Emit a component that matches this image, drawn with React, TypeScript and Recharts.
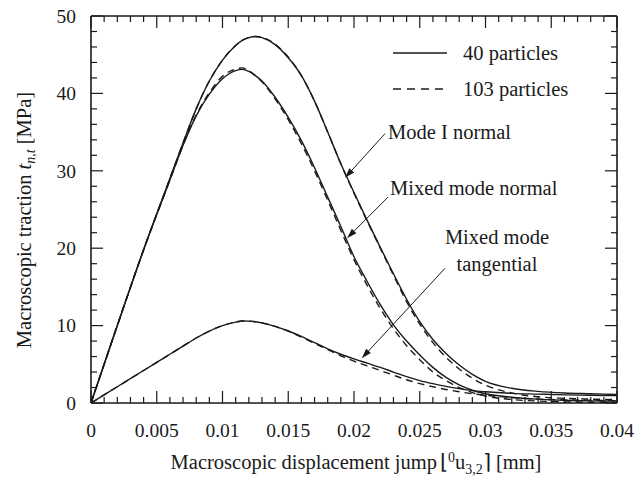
import React from "react";
import { LineChart, Line, XAxis, YAxis, ReferenceLine, ReferenceDot, Legend } from "recharts";

// displacement jump [mm]
const xs = [
  0, 0.002, 0.004, 0.006, 0.007, 0.008, 0.009, 0.01, 0.011, 0.0115, 0.012, 0.0125, 0.013, 0.014,
  0.015, 0.016, 0.017, 0.018, 0.019, 0.02, 0.021, 0.022, 0.023, 0.024, 0.025, 0.026, 0.027, 0.028,
  0.029, 0.03, 0.032, 0.034, 0.036, 0.038, 0.04,
];

// traction [MPa]
const modeI40 = [
  0, 10.0, 19.8, 29.0, 33.6, 38.0, 41.6, 44.3, 46.2, 46.85, 47.2, 47.35, 47.2, 46.3, 44.6, 42.3,
  39.0, 35.0, 30.9, 27.2, 23.6, 20.1, 16.7, 13.4, 10.5, 8.2, 6.4, 4.9, 3.7, 2.8, 1.9, 1.5, 1.3, 1.2,
  1.1,
];
const modeI103 = [
  0, 10.0, 19.8, 29.0, 33.6, 38.0, 41.6, 44.3, 46.2, 46.85, 47.2, 47.35, 47.25, 46.35, 44.7, 42.3,
  39.0, 35.0, 30.9, 27.1, 23.5, 20.0, 16.5, 13.1, 10.2, 7.8, 5.9, 4.4, 3.2, 2.3, 1.3, 0.8, 0.6, 0.5,
  0.45,
];
const mixedN40 = [
  0, 10.0, 19.8, 28.8, 33.3, 37.1, 39.9, 41.9, 42.95, 43.1, 42.85, 42.3, 41.6, 39.5, 36.9, 33.9,
  30.4, 26.6, 22.8, 18.9, 15.7, 12.7, 10.1, 8.0, 6.2, 4.6, 3.3, 2.35, 1.65, 1.2, 0.75, 0.5, 0.35,
  0.28, 0.25,
];
const mixedN103 = [
  0, 10.0, 19.8, 28.8, 33.3, 37.2, 40.1, 42.2, 43.15, 43.3, 42.95, 42.3, 41.5, 39.3, 36.6, 33.5,
  30.0, 26.2, 22.3, 18.5, 15.2, 12.2, 9.6, 7.4, 5.6, 4.0, 2.9, 2.0, 1.35, 0.9, 0.45, 0.25, 0.15, 0.1,
  0.1,
];
const tang40 = [
  0, 2.1, 4.2, 6.3, 7.35, 8.4, 9.3, 10.0, 10.45, 10.6, 10.58, 10.5, 10.35, 9.9, 9.3, 8.6, 7.8, 7.0,
  6.3, 5.7, 5.15, 4.6, 4.0, 3.4, 2.9, 2.5, 2.15, 1.85, 1.6, 1.45, 1.25, 1.15, 1.05, 1.0, 0.95,
];
const tang103 = [
  0, 2.1, 4.2, 6.3, 7.35, 8.4, 9.3, 10.0, 10.45, 10.6, 10.58, 10.5, 10.35, 9.9, 9.3, 8.5, 7.7, 6.9,
  6.1, 5.4, 4.8, 4.2, 3.6, 3.0, 2.5, 2.1, 1.75, 1.45, 1.2, 1.0, 0.7, 0.5, 0.4, 0.35, 0.3,
];

const xMajorTicks = [0, 0.005, 0.01, 0.015, 0.02, 0.025, 0.03, 0.035, 0.04];
const xTickLabels = ["0", "0.005", "0.01", "0.015", "0.02", "0.025", "0.03", "0.035", "0.04"];
const yMajorTicks = [0, 10, 20, 30, 40, 50];
const yTickLabels = ["0", "10", "20", "30", "40", "50"];

const legendItems = [
  { label: "40 particles", dashed: false },
  { label: "103 particles", dashed: true },
];

// arrow annotations in data coords
const arrows = [
  { from: { x: 0.02236, y: 34.8 }, to: { x: 0.01932, y: 29.1 } },
  { from: { x: 0.02259, y: 26.6 }, to: { x: 0.01947, y: 21.3 } },
  { from: { x: 0.02692, y: 17.4 }, to: { x: 0.02059, y: 5.78 } },
];
const notes = [
  { x: 0.022586, y: 34.17, text: "Mode I normal", anchor: "start" },
  { x: 0.022738, y: 26.9, text: "Mixed mode normal", anchor: "start" },
  { x: 0.030875, y: 20.54, text: "Mixed mode", anchor: "middle" },
  { x: 0.030875, y: 17.05, text: "tangential", anchor: "middle" },
];

const xAllTicks = Array.from({ length: 41 }, (_, i) => +(i * 0.001).toFixed(3));
const yAllTicks = Array.from({ length: 26 }, (_, i) => i * 2);

const data = xs.map((x, i) => ({
  x,
  modeI40: modeI40[i],
  modeI103: modeI103[i],
  mixedN40: mixedN40[i],
  mixedN103: mixedN103[i],
  tang40: tang40[i],
  tang103: tang103[i],
}));

const FONT = "Liberation Serif, Times New Roman, Times, serif";
const INK = "#1a1a1a";
const PLOT_LEFT = 91;
const PLOT_RIGHT = 617;
const PLOT_TOP = 16;
const PLOT_BOTTOM = 403;
const tickTxt = { fontFamily: FONT, fontSize: 19.5 };
const txt = { fontFamily: FONT, fontSize: 20.5 };

const XTick = (props: any) => {
  const { x, payload } = props;
  const idx = xMajorTicks.findIndex((t) => Math.abs(t - payload.value) < 1e-9);
  const len = idx >= 0 ? 12 : 6;
  return (
    <g>
      <line x1={x} x2={x} y1={PLOT_BOTTOM} y2={PLOT_BOTTOM - len} stroke={INK} strokeWidth={1.2} />
      <line x1={x} x2={x} y1={PLOT_TOP} y2={PLOT_TOP + len} stroke={INK} strokeWidth={1.2} />
      {idx >= 0 && (
        <text x={x} y={437} textAnchor="middle" style={tickTxt} fill={INK}>
          {xTickLabels[idx]}
        </text>
      )}
    </g>
  );
};

const YTick = (props: any) => {
  const { y, payload } = props;
  const idx = yMajorTicks.indexOf(payload.value);
  const len = idx >= 0 ? 12 : 6;
  return (
    <g>
      <line x1={PLOT_LEFT} x2={PLOT_LEFT + len} y1={y} y2={y} stroke={INK} strokeWidth={1.2} />
      <line x1={PLOT_RIGHT} x2={PLOT_RIGHT - len} y1={y} y2={y} stroke={INK} strokeWidth={1.2} />
      {idx >= 0 && (
        <text x={76} y={y + 6.8} textAnchor="end" style={tickTxt} fill={INK}>
          {yTickLabels[idx]}
        </text>
      )}
    </g>
  );
};

const XTitle = () => (
  <text x={356} y={469} textAnchor="middle" style={txt} fill={INK}>
    Macroscopic displacement jump
    <tspan dx={3}>⌊</tspan>
    <tspan dy={-7} fontSize={14}>0</tspan>
    <tspan dy={7}>u</tspan>
    <tspan dy={5} fontSize={14}>3,2</tspan>
    <tspan dy={-5}>⌉</tspan>
    <tspan> [mm]</tspan>
  </text>
);

const YTitle = () => (
  <text x={31} y={220} transform="rotate(-90, 31, 220)" textAnchor="middle" style={txt} fill={INK}>
    Macroscopic traction <tspan fontStyle="italic">t</tspan>
    <tspan fontStyle="italic" fontSize={14} dy={4}>n,t</tspan>
    <tspan dy={-4}> [MPa]</tspan>
  </text>
);

const Arrow = (props: any) => {
  const { x1, y1, x2, y2 } = props;
  const ang = Math.atan2(y2 - y1, x2 - x1);
  const L = 10;
  const W = 3.2;
  const bx = x2 - L * Math.cos(ang);
  const by = y2 - L * Math.sin(ang);
  const px = -Math.sin(ang) * W;
  const py = Math.cos(ang) * W;
  return (
    <g>
      <line x1={x1} y1={y1} x2={bx} y2={by} stroke={INK} strokeWidth={1} />
      <polygon points={`${x2},${y2} ${bx + px},${by + py} ${bx - px},${by - py}`} fill={INK} />
    </g>
  );
};

const LegendBox = () => (
  <div style={{ fontFamily: FONT, fontSize: 20.5, color: INK }}>
    {legendItems.map((it) => (
      <div key={it.label} style={{ display: "flex", alignItems: "center", height: 36 }}>
        <svg width={70} height={10}>
          <line
            x1={0}
            x2={54}
            y1={5}
            y2={5}
            stroke={INK}
            strokeWidth={1.3}
            strokeDasharray={it.dashed ? "8 6" : undefined}
          />
        </svg>
        <span>{it.label}</span>
      </div>
    ))}
  </div>
);

export default function App() {
  const lineProps = {
    type: "monotone" as const,
    stroke: INK,
    strokeWidth: 1.4,
    dot: false,
    isAnimationActive: false,
  };
  return (
    <div
      style={{
        position: "absolute",
        left: 0,
        top: 0,
        width: 635,
        height: 478,
        background: "#fff",
        fontFamily: FONT,
      }}
    >
      <LineChart width={635} height={478} data={data} margin={{ top: 16, right: 18, bottom: 35, left: 31 }}>
        <XAxis
          dataKey="x"
          type="number"
          domain={[0, 0.04]}
          allowDataOverflow
          ticks={xAllTicks}
          interval={0}
          tick={<XTick />}
          tickLine={false}
          axisLine={{ stroke: INK, strokeWidth: 1.6 }}
          height={40}
          label={() => <XTitle />}
        />
        <YAxis
          type="number"
          domain={[0, 50]}
          allowDataOverflow
          ticks={yAllTicks}
          interval={0}
          tick={<YTick />}
          tickLine={false}
          axisLine={{ stroke: INK, strokeWidth: 1.6 }}
          width={60}
          label={() => <YTitle />}
        />
        <ReferenceLine y={50} stroke={INK} strokeWidth={1.6} />
        <ReferenceLine x={0.04} stroke={INK} strokeWidth={1.6} />
        <Line dataKey="modeI103" {...lineProps} strokeDasharray="7 5" />
        <Line dataKey="mixedN103" {...lineProps} strokeDasharray="7 5" />
        <Line dataKey="tang103" {...lineProps} strokeDasharray="7 5" />
        <Line dataKey="modeI40" {...lineProps} />
        <Line dataKey="mixedN40" {...lineProps} />
        <Line dataKey="tang40" {...lineProps} />
        {arrows.map((a, i) => (
          <ReferenceLine key={`arrow-${i}`} segment={[a.from, a.to]} shape={<Arrow />} ifOverflow="visible" />
        ))}
        {notes.map((n, i) => (
          <ReferenceDot
            key={`note-${i}`}
            x={n.x}
            y={n.y}
            r={0}
            ifOverflow="visible"
            shape={(p: any) => (
              <text x={p.cx} y={p.cy} textAnchor={n.anchor} style={txt} fill={INK}>
                {n.text}
              </text>
            )}
          />
        ))}
        <Legend
          layout="horizontal"
          verticalAlign="middle"
          align="center"
          content={() => <LegendBox />}
          wrapperStyle={{ position: "absolute", left: 393, top: 35, width: 230, height: 72 }}
        />
      </LineChart>
    </div>
  );
}
